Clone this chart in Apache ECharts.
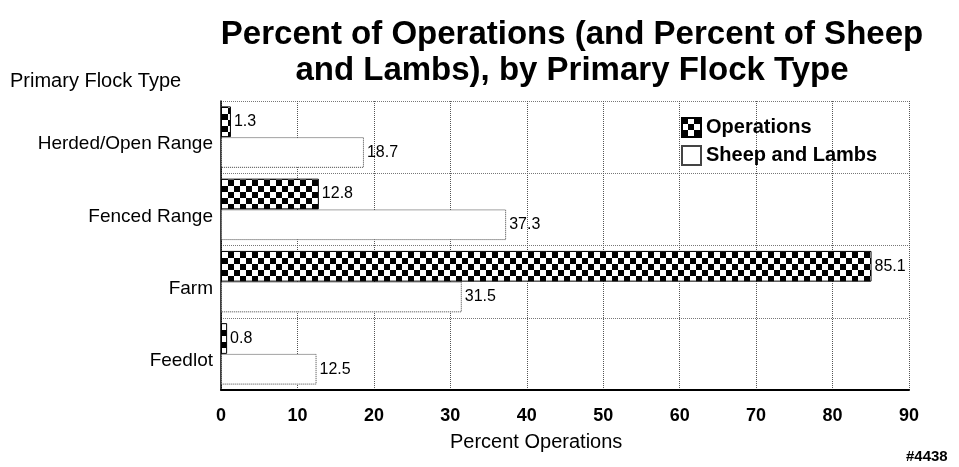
<!DOCTYPE html>
<html>
<head>
<meta charset="utf-8">
<script src="https://cdn.jsdelivr.net/npm/echarts@6/dist/echarts.min.js"></script>
<style>
  html, body { margin: 0; padding: 0; background: #fff; }
  #chart { width: 959px; height: 467px; }
</style>
</head>
<body>
<div id="chart"></div>
<script>
const categories = ['Herded/Open Range', 'Fenced Range', 'Farm', 'Feedlot']
const operations = [1.3, 12.8, 85.1, 0.8]
const sheepAndLambs = [18.7, 37.3, 31.5, 12.5]
const xTicks = { min: 0, max: 90, interval: 10 }

// checkerboard fill for the Operations bars
function checker (size) {
  const c = document.createElement('canvas')
  c.width = size * 2
  c.height = size * 2
  const ctx = c.getContext('2d')
  ctx.fillStyle = '#fff'
  ctx.fillRect(0, 0, size * 2, size * 2)
  ctx.fillStyle = '#000'
  ctx.fillRect(0, 0, size, size)
  ctx.fillRect(size, size, size, size)
  return c
}
const checkFill = { image: checker(6), repeat: 'repeat' }

const font = 'Liberation Sans, Arial, sans-serif'
const chart = echarts.init(document.getElementById('chart'))

chart.setOption({
  animation: false,
  textStyle: { fontFamily: font },
  title: {
    text: 'Percent of Operations (and Percent of Sheep\nand Lambs), by Primary Flock Type',
    left: 567,
    top: 12,
    textAlign: 'center',
    textStyle: { fontSize: 33, fontWeight: 'bold', color: '#000', lineHeight: 36, fontFamily: font }
  },
  legend: {
    left: 676,
    top: 112,
    orient: 'vertical',
    icon: 'rect',
    itemWidth: 19,
    itemHeight: 19,
    itemGap: 7,
    selectedMode: false,
    textStyle: { fontSize: 20, fontWeight: 'bold', color: '#000', fontFamily: font },
    data: ['Operations', 'Sheep and Lambs']
  },
  grid: { left: 221, right: 50, top: 101, bottom: 77, containLabel: false },
  xAxis: {
    type: 'value',
    min: xTicks.min,
    max: xTicks.max,
    interval: xTicks.interval,
    axisLine: { show: true, lineStyle: { color: '#000', width: 2 } },
    axisTick: { show: false },
    axisLabel: { fontSize: 18, fontWeight: 'bold', color: '#000', margin: 17, fontFamily: font },
    splitLine: { show: true, lineStyle: { color: '#555', type: 'dotted', width: 1 } }
  },
  yAxis: {
    type: 'category',
    inverse: true,
    data: categories,
    axisLine: { show: true, lineStyle: { color: '#000', width: 1.5 } },
    axisTick: { show: false },
    axisLabel: { fontSize: 19, color: '#000', margin: 8, verticalAlign: 'top', lineHeight: 14, fontFamily: font },
    splitLine: { show: true, lineStyle: { color: '#777', type: 'dotted', width: 1 } }
  },
  graphic: [
    { type: 'text', left: 10, top: 71, style: { text: 'Primary Flock Type', fontSize: 20, fill: '#000', fontFamily: font } },
    { type: 'text', left: 450, top: 432, style: { text: 'Percent Operations', fontSize: 20, fill: '#000', fontFamily: font } },
    { type: 'text', left: 906, top: 449, style: { text: '#4438', fontSize: 15, fontWeight: 'bold', fill: '#000', fontFamily: font } }
  ],
  series: [
    {
      name: 'Operations',
      type: 'bar',
      data: operations,
      barGap: '0%',
      barCategoryGap: '15%',
      itemStyle: { color: checkFill, borderColor: '#000', borderWidth: 1 },
      label: { show: true, position: 'right', distance: 3, fontSize: 16, color: '#000', fontFamily: font }
    },
    {
      name: 'Sheep and Lambs',
      type: 'bar',
      data: sheepAndLambs,
      barGap: '0%',
      barCategoryGap: '15%',
      itemStyle: { color: '#fff', borderColor: '#444', borderWidth: 1, borderType: 'dotted' },
      label: { show: true, position: 'right', distance: 3, fontSize: 16, color: '#000', fontFamily: font }
    }
  ]
})
</script>
</body>
</html>
